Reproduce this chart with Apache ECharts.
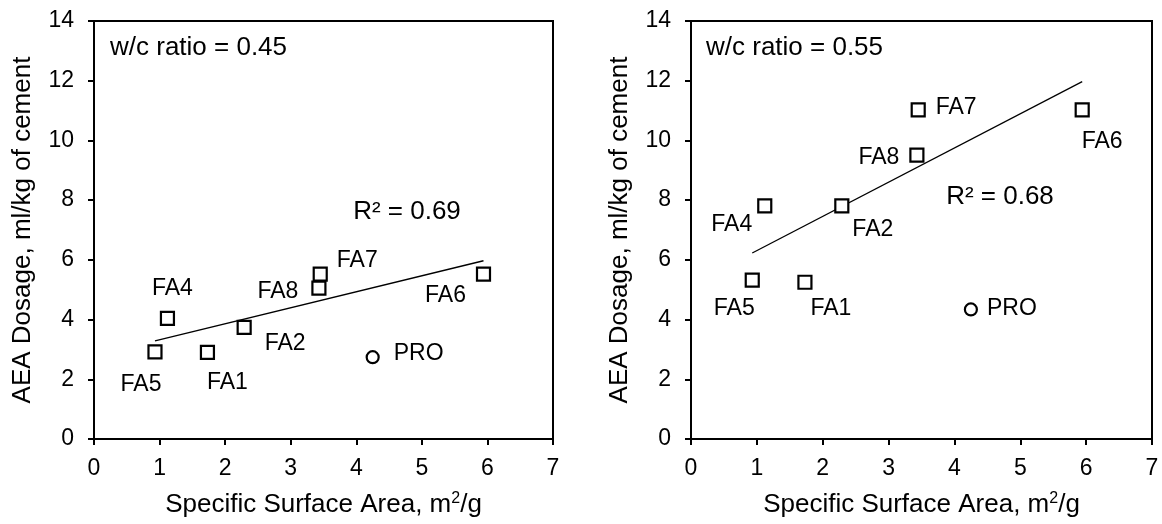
<!DOCTYPE html>
<html>
<head>
<meta charset="utf-8">
<script src="https://cdn.jsdelivr.net/npm/echarts@6/dist/echarts.min.js"></script>
<style>
  html, body { margin: 0; padding: 0; background: #fff; }
  #chart { width: 1162px; height: 524px; }
</style>
</head>
<body>
<div id="chart"></div>
<script>
// fly ash samples, same specific surface area for both panels
const ashNames = ['FA1', 'FA2', 'FA4', 'FA5', 'FA6', 'FA7', 'FA8'];
const ashSSA = [1.73, 2.29, 1.12, 0.93, 5.94, 3.45, 3.43];
const aeaAt045 = [2.9, 3.74, 4.04, 2.92, 5.52, 5.52, 5.05];
const aeaAt055 = [5.25, 7.81, 7.81, 5.32, 11.02, 11.02, 9.51];

// PRO sample (circle)
const proName = 'PRO';
const proSSA = 4.25;
const proAt045 = 2.74;
const proAt055 = 4.34;

// trendline ends
const trendX = [0.93, 5.94];
const trend045 = [3.29, 5.97];
const trend055 = [6.23, 11.97];

const panelTitles = ['w/c ratio = 0.45', 'w/c ratio = 0.55'];
const r2Texts = ['R² = 0.69', 'R² = 0.68'];

// label offsets (px) from the marker centre, per panel, in ashNames order
const labelOffsets = [
  [[20, 30], [41, 16], [5, -30], [-14, 33], [-38, 21], [37, -14], [-41, 3]],
  [[26, 26], [31, 24], [-33, 19], [-18, 28], [20, 32], [38, -2], [-38, 3]]
];
const proOffsets = [[46, -4], [41, -1]];

const FONT = 'Liberation Sans, Arial, sans-serif';
const chart = echarts.init(document.getElementById('chart'));

function ashData(values, offs) {
  return ashNames.map((n, i) => ({
    name: n,
    value: [ashSSA[i], values[i]],
    label: { offset: offs[i] }
  }));
}

function xAxisFor(idx) {
  return {
    type: 'value', gridIndex: idx, min: 0, max: 7, interval: 1,
    name: 'Specific Surface Area, m{sup|2}/g',
    nameLocation: 'middle', nameGap: 52,
    nameTextStyle: {
      color: '#000', fontFamily: FONT, fontSize: 26,
      rich: { sup: { fontSize: 16, fontFamily: FONT, color: '#000', padding: [0, 0, 11, 0] } }
    },
    axisLine: { show: true, onZero: false, lineStyle: { color: '#000', width: 2 } },
    axisTick: { show: true, inside: false, length: 6, lineStyle: { color: '#000', width: 2 } },
    axisLabel: { color: '#000', fontFamily: FONT, fontSize: 23, margin: 18 },
    splitLine: { show: false }
  };
}

function yAxisFor(idx) {
  return {
    type: 'value', gridIndex: idx, min: 0, max: 14, interval: 2,
    name: 'AEA Dosage, ml/kg of cement',
    nameLocation: 'middle', nameGap: 58,
    nameTextStyle: { color: '#000', fontFamily: FONT, fontSize: 26 },
    axisLine: { show: true, onZero: false, lineStyle: { color: '#000', width: 2 } },
    axisTick: { show: true, inside: false, length: 6, lineStyle: { color: '#000', width: 2 } },
    axisLabel: { color: '#000', fontFamily: FONT, fontSize: 23, margin: 20 },
    splitLine: { show: false }
  };
}

// array position avoids the automatic "inside" label colouring
const pointLabel = {
  show: true, position: ['50%', '50%'], align: 'center', verticalAlign: 'middle',
  color: '#000', fontFamily: FONT, fontSize: 23, textBorderWidth: 0,
  formatter: p => p.name
};

// scatter defaults to opacity 0.8, markers here are solid black outlines
const markerStyle = { color: '#fff', borderColor: '#000', borderWidth: 2.2, opacity: 1 };

function panelSeries(idx, ashValues, proValue, trendY) {
  return [
    {
      type: 'line', xAxisIndex: idx, yAxisIndex: idx,
      data: trendX.map((x, i) => [x, trendY[i]]),
      showSymbol: false, silent: true,
      lineStyle: { color: '#000', width: 1.3 }, z: 1
    },
    {
      type: 'scatter', xAxisIndex: idx, yAxisIndex: idx,
      symbol: 'rect', symbolSize: 13,
      itemStyle: markerStyle,
      label: pointLabel,
      data: ashData(ashValues, labelOffsets[idx]), z: 3
    },
    {
      type: 'scatter', xAxisIndex: idx, yAxisIndex: idx,
      symbol: 'circle', symbolSize: 12,
      itemStyle: markerStyle,
      label: pointLabel,
      data: [{ name: proName, value: [proSSA, proValue], label: { offset: proOffsets[idx] } }], z: 3
    }
  ];
}

const textStyle = { fill: '#000', font: '26px ' + FONT };

chart.setOption({
  animation: false,
  backgroundColor: '#fff',
  grid: [
    { left: 94, top: 21, width: 459, height: 418, show: true, borderColor: '#000', borderWidth: 2, backgroundColor: 'transparent' },
    { left: 691, top: 21, width: 461, height: 418, show: true, borderColor: '#000', borderWidth: 2, backgroundColor: 'transparent' }
  ],
  xAxis: [xAxisFor(0), xAxisFor(1)],
  yAxis: [yAxisFor(0), yAxisFor(1)],
  series: [
    ...panelSeries(0, aeaAt045, proAt045, trend045),
    ...panelSeries(1, aeaAt055, proAt055, trend055)
  ],
  graphic: [
    { type: 'text', left: 110, top: 35, style: Object.assign({ text: panelTitles[0] }, textStyle) },
    { type: 'text', left: 706, top: 35, style: Object.assign({ text: panelTitles[1] }, textStyle) },
    { type: 'text', x: 407, y: 212, style: Object.assign({ text: r2Texts[0], align: 'center', verticalAlign: 'middle' }, textStyle) },
    { type: 'text', x: 1000, y: 197, style: Object.assign({ text: r2Texts[1], align: 'center', verticalAlign: 'middle' }, textStyle) }
  ]
});
</script>
</body>
</html>
